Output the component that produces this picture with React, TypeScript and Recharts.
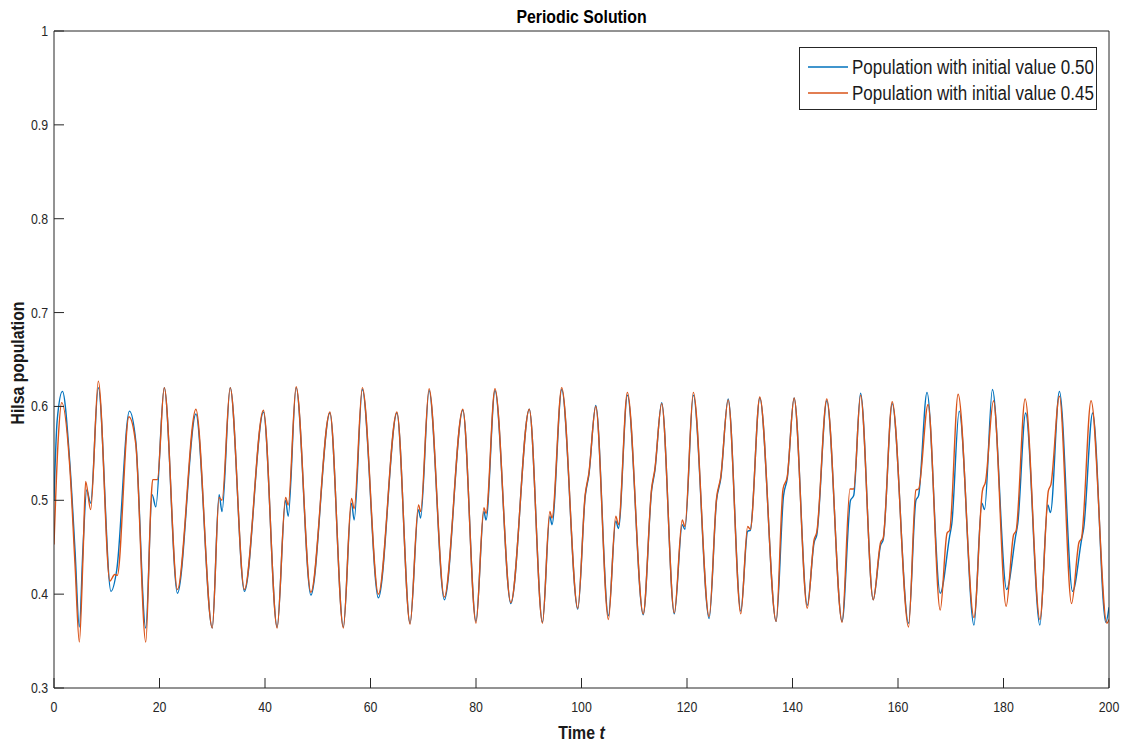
import { Legend, Line, LineChart, XAxis, YAxis } from "recharts";

// key points (time, population)
const blueTime = [
  0, 0.6, 1.6, 3.0, 4.0, 4.8, 5.5, 6.2, 6.95, 8.4, 10.8, 11.9, 14.3, 15.5, 17.4, 18.6, 19.3, 20.9, 23.4, 26.9,
  30.0, 31.3, 31.85, 33.4, 36.1, 39.7, 42.3, 43.9, 44.4, 45.9, 48.7, 52.3, 54.85, 56.4, 56.9, 58.45, 61.5, 65.0,
  67.5, 69.1, 69.5, 71.1, 74.0, 77.5, 80.0, 81.5, 81.9, 83.6, 86.6, 90.1, 92.6, 94.0, 94.4, 96.25, 99.3, 100.7,
  101.4, 102.7, 105.1, 106.5, 107.0, 108.7, 111.7, 113.3, 113.9, 115.2, 117.6, 119.1, 119.6, 121.2, 124.2, 125.6,
  126.4, 127.8, 130.2, 131.5, 132.0, 133.8, 136.9, 138.3, 139.0, 140.3, 142.8, 144.1, 144.6, 146.5, 149.4, 151.0,
  151.6, 152.9, 155.3, 156.7, 157.2, 158.9, 162.0, 163.4, 163.9, 165.5, 168.0, 169.8, 170.2, 171.6, 174.4, 175.9,
  176.4, 177.9, 180.6, 182.3, 182.7, 184.2, 186.9, 188.4, 188.9, 190.6, 193.1, 194.8, 195.2, 196.9, 199.4, 200,
];
const blueValue = [
  0.5, 0.585, 0.616, 0.54, 0.445, 0.365, 0.45, 0.511, 0.497, 0.62, 0.403, 0.426, 0.595, 0.563, 0.364, 0.506, 0.493,
  0.62, 0.401, 0.592, 0.364, 0.506, 0.488, 0.62, 0.403, 0.594, 0.365, 0.5, 0.483, 0.62, 0.399, 0.593, 0.365, 0.497,
  0.479, 0.618, 0.396, 0.593, 0.369, 0.49, 0.481, 0.617, 0.394, 0.596, 0.371, 0.488, 0.479, 0.617, 0.39, 0.597,
  0.37, 0.483, 0.474, 0.618, 0.384, 0.504, 0.527, 0.601, 0.377, 0.478, 0.47, 0.612, 0.378, 0.511, 0.531, 0.604,
  0.379, 0.474, 0.469, 0.612, 0.374, 0.5, 0.523, 0.608, 0.382, 0.467, 0.468, 0.609, 0.371, 0.505, 0.523, 0.609,
  0.388, 0.455, 0.463, 0.606, 0.371, 0.5, 0.505, 0.614, 0.394, 0.452, 0.458, 0.603, 0.369, 0.5, 0.505, 0.615, 0.401,
  0.462, 0.475, 0.595, 0.367, 0.497, 0.49, 0.618, 0.405, 0.462, 0.475, 0.593, 0.367, 0.495, 0.487, 0.616, 0.403,
  0.458, 0.47, 0.593, 0.37, 0.386,
];

const orangeTime = [
  0, 0.8, 1.45, 3.0, 4.0, 4.8, 5.5, 6.0, 6.95, 8.4, 10.6, 11.5, 12.0, 14.2, 15.5, 17.4, 18.4, 18.7, 19.6, 20.9, 23.4,
  26.9, 30.0, 31.3, 31.85, 33.4, 36.1, 39.7, 42.3, 43.9, 44.4, 45.9, 48.7, 52.3, 54.85, 56.4, 56.9, 58.45, 61.5,
  65.0, 67.5, 69.1, 69.5, 71.1, 74.0, 77.5, 80.0, 81.5, 81.9, 83.6, 86.6, 90.1, 92.6, 94.0, 94.4, 96.25, 99.3,
  100.7, 101.4, 102.7, 105.1, 106.5, 107.0, 108.7, 111.7, 113.3, 113.9, 115.2, 117.6, 119.1, 119.6, 121.2, 124.2,
  125.6, 126.4, 127.8, 130.2, 131.5, 132.0, 133.8, 136.9, 138.2, 139.0, 140.3, 142.8, 144.1, 144.6, 146.5, 149.4,
  150.9, 151.6, 152.9, 155.3, 156.7, 157.2, 158.9, 162.0, 163.4, 163.9, 165.7, 168.0, 169.3, 169.8, 171.4, 174.4,
  176.0, 176.6, 178.1, 180.5, 181.9, 182.4, 184.1, 186.9, 188.5, 189.0, 190.6, 192.9, 194.3, 194.8, 196.6, 199.6, 200,
];
const orangeValue = [
  0.453, 0.565, 0.604, 0.535, 0.43, 0.349, 0.44, 0.52, 0.49, 0.627, 0.414, 0.421, 0.42, 0.589, 0.56, 0.349, 0.5,
  0.522, 0.522, 0.62, 0.405, 0.597, 0.364, 0.503, 0.5, 0.62, 0.405, 0.596, 0.364, 0.503, 0.495, 0.621, 0.402, 0.594,
  0.364, 0.502, 0.491, 0.62, 0.4, 0.594, 0.368, 0.495, 0.488, 0.619, 0.397, 0.597, 0.369, 0.492, 0.486, 0.619,
  0.391, 0.597, 0.369, 0.488, 0.481, 0.62, 0.385, 0.506, 0.529, 0.6, 0.373, 0.483, 0.474, 0.615, 0.379, 0.513,
  0.533, 0.603, 0.38, 0.479, 0.472, 0.615, 0.376, 0.502, 0.525, 0.607, 0.379, 0.472, 0.469, 0.61, 0.371, 0.512,
  0.525, 0.609, 0.385, 0.458, 0.466, 0.608, 0.37, 0.512, 0.512, 0.612, 0.394, 0.455, 0.46, 0.605, 0.365, 0.511,
  0.512, 0.602, 0.383, 0.465, 0.468, 0.613, 0.375, 0.51, 0.52, 0.606, 0.387, 0.463, 0.468, 0.608, 0.373, 0.51,
  0.517, 0.611, 0.39, 0.455, 0.46, 0.606, 0.369, 0.373,
];

const xTicks = [0, 20, 40, 60, 80, 100, 120, 140, 160, 180, 200];
const yTicks = [0.3, 0.4, 0.5, 0.6, 0.7, 0.8, 0.9, 1];

const series = [
  { name: "Population with initial value 0.50", color: "#0072BD" },
  { name: "Population with initial value 0.45", color: "#D95319" },
];

const AXIS = "#262626";
const FONT = "'Liberation Sans', Arial, Helvetica, sans-serif";
const SQUEEZE = 0.88;

const blueData = blueTime.map((t, i) => ({ t, v: blueValue[i] }));
const orangeData = orangeTime.map((t, i) => ({ t, v: orangeValue[i] }));

function XTick(props: any) {
  const { x, y, payload } = props;
  return (
    <text
      transform={`translate(${x},${y + 10}) scale(${SQUEEZE},1)`}
      textAnchor="middle"
      fontSize={14}
      fontFamily={FONT}
      fill={AXIS}
    >
      {payload.value}
    </text>
  );
}

function YTick(props: any) {
  const { x, y, payload } = props;
  const label = payload.value === 1 ? "1" : Number(payload.value).toFixed(1);
  return (
    <text
      transform={`translate(${x},${y + 5}) scale(${SQUEEZE},1)`}
      textAnchor="end"
      fontSize={14}
      fontFamily={FONT}
      fill={AXIS}
    >
      {label}
    </text>
  );
}

function LegendBox() {
  return (
    <div
      style={{
        boxSizing: "border-box",
        width: 298,
        height: 63,
        border: `1px solid ${AXIS}`,
        background: "#fff",
        paddingTop: 6,
        fontFamily: FONT,
      }}
    >
      {series.map((s) => (
        <div key={s.name} style={{ height: 26, display: "flex", alignItems: "center" }}>
          <svg width={48} height={26} style={{ flex: "none", display: "block" }}>
            <line x1={8} x2={48} y1={13} y2={13} stroke={s.color} strokeWidth={1.4} />
          </svg>
          <span
            style={{
              marginLeft: 4,
              fontSize: 20,
              color: "#1a1a1a",
              whiteSpace: "nowrap",
              display: "inline-block",
              transform: "scaleX(0.85)",
              transformOrigin: "left center",
            }}
          >
            {s.name}
          </span>
        </div>
      ))}
    </div>
  );
}

export default function App() {
  return (
    <div style={{ position: "absolute", left: 0, top: 0, width: 1127, height: 746, background: "#fff" }}>
      <LineChart width={1127} height={746} margin={{ top: 30, right: 17, bottom: 0, left: 0 }}>
        <XAxis
          xAxisId="x"
          dataKey="t"
          type="number"
          domain={[0, 200]}
          ticks={xTicks}
          interval={0}
          allowDataOverflow
          height={58}
          tickSize={-10}
          tickMargin={24}
          axisLine={{ stroke: AXIS }}
          tickLine={{ stroke: AXIS }}
          tick={XTick}
        />
        <XAxis
          xAxisId="top"
          dataKey="t"
          orientation="top"
          type="number"
          domain={[0, 200]}
          ticks={xTicks}
          interval={0}
          allowDataOverflow
          height={1}
          tickSize={-10}
          axisLine={{ stroke: AXIS }}
          tickLine={{ stroke: AXIS }}
          tick={false}
        />
        <YAxis
          yAxisId="y"
          type="number"
          domain={[0.3, 1]}
          ticks={yTicks}
          interval={0}
          allowDataOverflow
          width={54}
          tickSize={-10}
          tickMargin={16}
          axisLine={{ stroke: AXIS }}
          tickLine={{ stroke: AXIS }}
          tick={YTick}
        />
        <YAxis
          yAxisId="right"
          orientation="right"
          type="number"
          domain={[0.3, 1]}
          ticks={yTicks}
          interval={0}
          allowDataOverflow
          width={1}
          tickSize={-10}
          axisLine={{ stroke: AXIS }}
          tickLine={{ stroke: AXIS }}
          tick={false}
        />
        <Legend
          layout="horizontal"
          verticalAlign="middle"
          align="center"
          content={LegendBox}
          wrapperStyle={{ left: 799, top: 47, width: 298, height: 63 }}
        />
        {/* invisible copy so the top/right frame axes get a domain and render */}
        <Line
          xAxisId="top"
          yAxisId="right"
          data={blueData}
          dataKey="v"
          stroke="none"
          legendType="none"
          dot={false}
          activeDot={false}
          isAnimationActive={false}
        />
        <Line
          xAxisId="x"
          yAxisId="y"
          data={blueData}
          dataKey="v"
          name={series[0].name}
          type="monotone"
          stroke={series[0].color}
          strokeWidth={1.4}
          dot={false}
          isAnimationActive={false}
        />
        <Line
          xAxisId="x"
          yAxisId="y"
          data={orangeData}
          dataKey="v"
          name={series[1].name}
          type="monotone"
          stroke={series[1].color}
          strokeWidth={1.4}
          dot={false}
          isAnimationActive={false}
        />
        <text
          transform={`translate(581.5,22.5) scale(${SQUEEZE},1)`}
          textAnchor="middle"
          fontSize={18}
          fontWeight="bold"
          fontFamily={FONT}
          fill="#000"
        >
          Periodic Solution
        </text>
        <text
          transform={`translate(581.5,738.5) scale(${SQUEEZE},1)`}
          textAnchor="middle"
          fontSize={18}
          fontWeight="bold"
          fontFamily={FONT}
          fill="#1a1a1a"
        >
          Time <tspan fontStyle="italic">t</tspan>
        </text>
        <text
          transform={`translate(23.5,363) rotate(-90) scale(${SQUEEZE},1)`}
          textAnchor="middle"
          fontSize={18}
          fontWeight="bold"
          fontFamily={FONT}
          fill="#1a1a1a"
        >
          Hilsa population
        </text>
      </LineChart>
    </div>
  );
}
